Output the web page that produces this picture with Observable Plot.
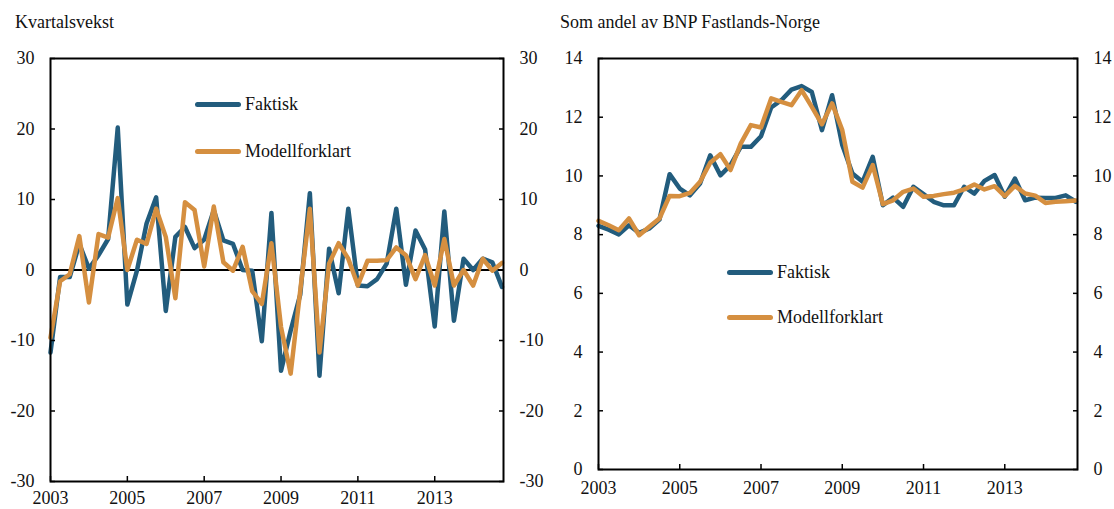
<!DOCTYPE html>
<html><head><meta charset="utf-8">
<script src="https://cdn.jsdelivr.net/npm/d3@7"></script>
<script src="https://cdn.jsdelivr.net/npm/@observablehq/plot@0.6"></script>
<style>
body{margin:0;background:#fff;font-family:"Liberation Serif","Times New Roman",serif;color:#111;}
#wrap{position:relative;width:1114px;height:509px;overflow:hidden;}
.title{position:absolute;top:11px;font-size:18px;line-height:22px;white-space:nowrap;}
.panel{position:absolute;top:38px;}
.leg{position:absolute;display:flex;align-items:center;height:22px;font-size:18px;white-space:nowrap;}
.leg .sw{display:inline-block;width:46px;height:5px;border-radius:3px;margin-right:4px;}
</style></head><body><div id="wrap"></div>
<script>
// ---- data ----
const years = [2003,2004,2005,2006,2007,2008,2009,2010,2011,2012,2013,2014];
const yearTicks = [2003,2005,2007,2009,2011,2013];
const leftTicks = [-30,-20,-10,0,10,20,30];
const rightTicks = [0,2,4,6,8,10,12,14];
const seriesNames = ["Faktisk","Modellforklart"];
const titles = ["Kvartalsvekst","Som andel av BNP Fastlands-Norge"];

const faktiskVekst = [-11.7,-1.0,-1.0,3.7,0.2,2.1,4.4,20.2,-4.9,-0.1,6.6,10.3,-5.8,4.7,6.1,3.1,4.3,8.5,4.2,3.7,0.0,-0.1,-10.1,8.1,-14.3,-8.6,-3.5,10.9,-15.0,3.0,-3.3,8.7,-2.2,-2.3,-1.3,0.9,8.7,-2.1,5.6,2.9,-8.0,8.3,-7.2,1.6,0.0,1.6,1.1,-2.4];
const modellVekst = [-9.6,-1.6,-0.6,4.8,-4.6,5.1,4.6,10.2,0.0,4.3,3.7,8.7,4.7,-4.0,9.6,8.5,0.5,9.0,1.1,-0.1,3.3,-3.0,-4.8,3.8,-8.1,-14.7,-2.9,8.7,-11.7,0.9,3.8,1.6,-2.2,1.3,1.3,1.4,3.2,2.1,-1.3,2.1,-2.2,4.4,-2.2,0.0,-2.2,1.6,-0.1,1.0];
const faktiskAndel = [8.30,8.17,8.01,8.32,8.06,8.21,8.51,10.06,9.57,9.34,9.74,10.70,10.02,10.37,10.99,10.99,11.35,12.33,12.58,12.94,13.06,12.86,11.56,12.75,11.05,10.08,9.80,10.65,9.00,9.26,8.95,9.63,9.38,9.12,9.00,9.00,9.63,9.40,9.83,10.03,9.29,9.91,9.17,9.26,9.25,9.25,9.34,9.12];
const modellAndel = [8.47,8.32,8.15,8.55,7.98,8.27,8.55,9.32,9.31,9.42,9.80,10.45,10.74,10.20,11.10,11.73,11.65,12.64,12.52,12.41,12.92,12.35,11.76,12.47,11.56,9.80,9.60,10.37,9.04,9.17,9.46,9.57,9.29,9.32,9.38,9.43,9.54,9.71,9.54,9.65,9.31,9.66,9.40,9.33,9.08,9.12,9.14,9.16];

const BLUE = "#225C7D";
const ORANGE = "#D58F40";
const colors = [BLUE, ORANGE];

const quarters = years.flatMap(y => [0,1,2,3].map(q => y + q/4));
const rowsL = quarters.map((t,i) => ({t, faktisk: faktiskVekst[i], modell: modellVekst[i]}));
const rowsR = quarters.map((t,i) => ({t, faktisk: faktiskAndel[i], modell: modellAndel[i]}));

const fmt = d => String(d);
const xDomain = [2003, 2014.79];

function axes(ticks, xPad) {
  return [
    Plot.frame({stroke:"#000", strokeWidth:2}),
    Plot.axisX({anchor:"bottom", ticks: yearTicks, tickSize:5, dy:-5, fill:"none", stroke:"#000", strokeWidth:1.5, label:null}),
    Plot.axisX({anchor:"bottom", ticks: yearTicks, tickSize:0, tickPadding:xPad, tickFormat: fmt, label:null}),
    Plot.axisY({anchor:"left", ticks, tickSize:5, dx:5, fill:"none", stroke:"#000", strokeWidth:1.5, label:null}),
    Plot.axisY({anchor:"right", ticks, tickSize:5, dx:-5, fill:"none", stroke:"#000", strokeWidth:1.5, label:null}),
    Plot.axisY({anchor:"left", ticks, tickSize:0, tickPadding:16, tickFormat: fmt, label:null}),
    Plot.axisY({anchor:"right", ticks, tickSize:0, tickPadding:16, tickFormat: fmt, label:null})
  ];
}

const style = {fontFamily:"'Liberation Serif','Times New Roman',serif", fontSize:"18px", color:"#111", background:"transparent", overflow:"visible"};

const left = Plot.plot({
  width:557, height:471, marginTop:20, marginLeft:50, marginRight:54, marginBottom:28,
  style,
  x:{domain:xDomain, axis:null},
  y:{domain:[-30,30], axis:null},
  marks:[
    Plot.ruleY([0], {stroke:"#000", strokeWidth:2}),
    Plot.line(rowsL, {x:"t", y:"faktisk", stroke:colors[0], strokeWidth:4.5, strokeLinejoin:"round"}),
    Plot.line(rowsL, {x:"t", y:"modell", stroke:colors[1], strokeWidth:4.5, strokeLinejoin:"round"}),
    ...axes(leftTicks, 10)
  ]
});

const right = Plot.plot({
  width:557, height:471, marginTop:20, marginLeft:41, marginRight:37, marginBottom:40,
  style,
  x:{domain:xDomain, axis:null},
  y:{domain:[0,14], axis:null},
  marks:[
    Plot.line(rowsR, {x:"t", y:"faktisk", stroke:colors[0], strokeWidth:4.5, strokeLinejoin:"round"}),
    Plot.line(rowsR, {x:"t", y:"modell", stroke:colors[1], strokeWidth:4.5, strokeLinejoin:"round"}),
    ...axes(rightTicks, 12)
  ]
});

const wrap = document.getElementById("wrap");
function addDiv(cls, css, html) {
  const d = document.createElement("div");
  d.className = cls; Object.assign(d.style, css); d.innerHTML = html; wrap.appendChild(d); return d;
}
addDiv("title", {left:"15px"}, titles[0]);
addDiv("title", {left:"560px"}, titles[1]);
const pl = addDiv("panel", {left:"0px"}, ""); pl.appendChild(left);
const pr = addDiv("panel", {left:"557px"}, ""); pr.appendChild(right);

function legend(x, y0, y1) {
  [y0, y1].forEach((y, i) => {
    addDiv("leg", {left: x + "px", top: (y - 11) + "px"},
      `<span class="sw" style="background:${colors[i]}"></span><span>${seriesNames[i]}</span>`);
  });
}
legend(195, 104, 151);
legend(727, 272, 317);
</script>
</body></html>
